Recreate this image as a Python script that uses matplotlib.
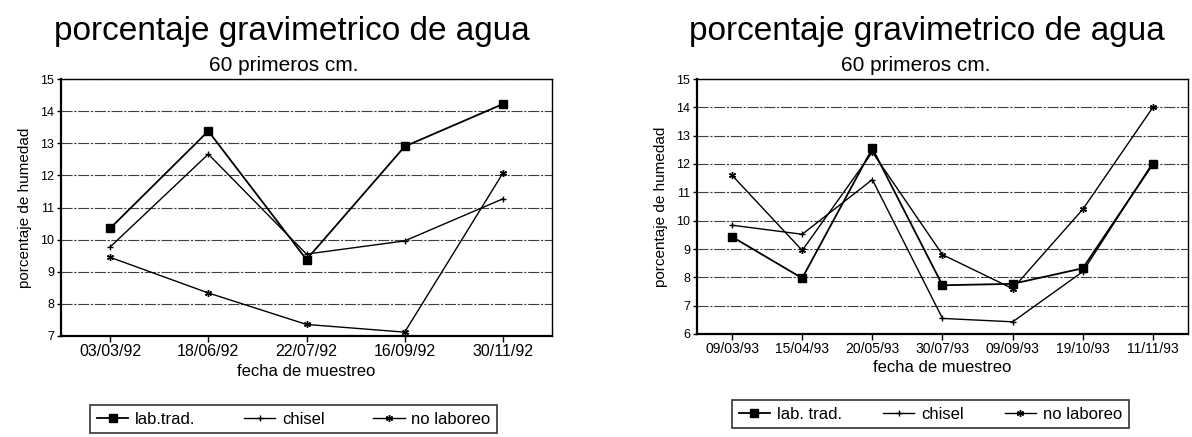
import matplotlib
matplotlib.use("Agg")
import matplotlib.pyplot as plt
from matplotlib.lines import Line2D

plt.rcParams['font.family'] = ['Liberation Sans', 'DejaVu Sans']

# 1992 campaign
fechas_92 = ['03/03/92', '18/06/92', '22/07/92', '16/09/92', '30/11/92']
lab_trad_92 = [10.35, 13.38, 9.38, 12.9, 14.22]
chisel_92 = [9.77, 12.66, 9.55, 9.96, 11.27]
no_laboreo_92 = [9.45, 8.34, 7.36, 7.12, 12.07]

# 1993 campaign
fechas_93 = ['09/03/93', '15/04/93', '20/05/93', '30/07/93', '09/09/93', '19/10/93', '11/11/93']
lab_trad_93 = [9.43, 7.97, 12.55, 7.72, 7.77, 8.32, 12.0]
chisel_93 = [9.84, 9.52, 11.45, 6.55, 6.43, 8.2, 12.05]
no_laboreo_93 = [11.6, 8.95, 12.42, 8.8, 7.6, 10.4, 14.0]

titulo = 'porcentaje gravimetrico de agua'
subtitulo = '60 primeros cm.'

W, H = 1192, 437
fig = plt.figure(figsize=(W / 100, H / 100), dpi=100)

AST = (6, 2, 0)


def fx(px):
    return px / W


def fy(py):
    return 1 - py / H


def panel(rect, fechas, series, ylim, xfs):
    ax = fig.add_axes(rect)
    x = list(range(len(fechas)))
    for vals, mk, ms, lw in series:
        ax.plot(x, vals, color='black', lw=lw, marker=mk, ms=ms,
                mec='black', mfc='black', mew=1.0)
    ax.set_xlim(-0.5, len(fechas) - 0.5)
    ax.set_ylim(*ylim)
    ax.set_yticks(range(ylim[0], ylim[1] + 1))
    ax.set_xticks(x)
    ax.set_xticklabels(fechas, fontsize=xfs)
    ax.tick_params(axis='y', labelsize=9, length=3, width=1, pad=2, direction='out')
    ax.tick_params(axis='x', length=4, width=1, pad=2, direction='out')
    ax.yaxis.grid(True, color='0.25', lw=0.8, ls=(0, (10, 1.5, 2, 1.5)))
    ax.set_axisbelow(True)
    ax.spines['left'].set_linewidth(1.6)
    ax.spines['bottom'].set_linewidth(1.6)
    ax.spines['top'].set_linewidth(1.0)
    ax.spines['right'].set_linewidth(1.0)
    ax.set_xlabel('fecha de muestreo', fontsize=12, labelpad=3)
    ax.set_ylabel('porcentaje de humedad', fontsize=11, labelpad=6)
    return ax


ax1 = panel([fx(61), fy(336), fx(552 - 61), (336 - 79) / H], fechas_92,
            [(lab_trad_92, 's', 6, 1.3), (chisel_92, '+', 5, 1.0), (no_laboreo_92, AST, 5, 1.0)],
            (7, 15), 11.5)
ax2 = panel([fx(697), fy(334), fx(1188 - 697), (334 - 79) / H], fechas_93,
            [(lab_trad_93, 's', 6, 1.3), (chisel_93, '+', 5, 1.0), (no_laboreo_93, AST, 5, 1.0)],
            (6, 15), 10)

fig.text(fx(292), fy(40), titulo, fontsize=24, ha='center', va='baseline')
fig.text(fx(284), fy(71), subtitulo, fontsize=15, ha='center', va='baseline')
fig.text(fx(927), fy(40), titulo, fontsize=24, ha='center', va='baseline')
fig.text(fx(916), fy(71), subtitulo, fontsize=15, ha='center', va='baseline')

handles = [
    Line2D([], [], color='black', lw=1.3, marker='s', ms=6),
    Line2D([], [], color='black', lw=1.0, marker='+', ms=5),
    Line2D([], [], color='black', lw=1.0, marker=AST, ms=5),
]
leg_kw = dict(ncol=3, loc='upper left', fontsize=12, frameon=True, fancybox=False,
              edgecolor='black', handlelength=1.9, handletextpad=0.4,
              borderpad=0.4, borderaxespad=0)
leg1 = fig.legend(handles, ['lab.trad.', 'chisel', 'no laboreo'], columnspacing=2.9,
                  bbox_to_anchor=(fx(90), fy(405)), **leg_kw)
leg1.get_frame().set_linewidth(1.2)
leg2 = fig.legend(handles, ['lab. trad.', 'chisel', 'no laboreo'], columnspacing=2.45,
                  bbox_to_anchor=(fx(732), fy(400)), **leg_kw)
leg2.get_frame().set_linewidth(1.2)

fig.savefig('out.png', dpi=100)
